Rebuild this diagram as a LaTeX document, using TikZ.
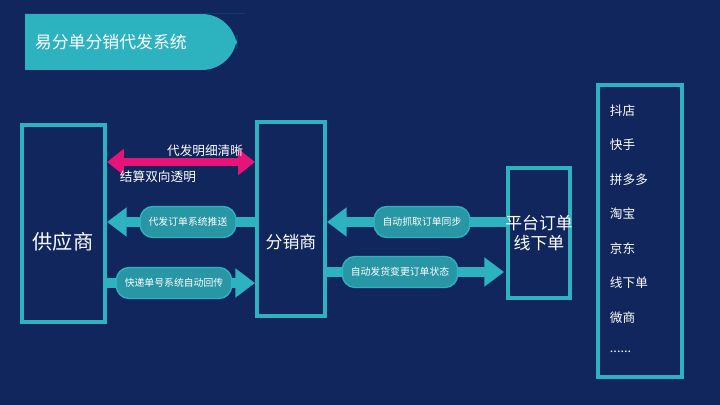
\documentclass[tikz,border=0pt]{standalone}
\usepackage{fontspec}
\setmainfont{Noto Sans CJK SC}
\usetikzlibrary{arrows.meta,positioning}
\definecolor{navybg}{RGB}{16,38,92}
\definecolor{tealline}{RGB}{45,178,192}
\definecolor{tealpill}{RGB}{40,150,165}
\definecolor{pinkarrow}{RGB}{230,20,120}
\newcommand{\etcmark}{......}
\tikzset{
  frame/.style={draw=tealline, line width=3.5pt, fill=navybg},
  pill/.style={fill=tealpill, draw=tealline, line width=1pt, rounded corners=9pt, text=white, font=\scriptsize, minimum height=22pt, inner xsep=6pt},
  flow/.style={tealline, line width=7pt, -{Triangle[length=14pt,width=20pt]}},
  item/.style={text=white, font=\small, anchor=west}
}
\begin{document}
\begin{tikzpicture}[x=0.025cm, y=-0.025cm]
  % background
  \fill[navybg] (0,0) rectangle (720,405);
  \useasboundingbox (0,0) rectangle (720,405);

  % title
  \fill[tealline, rounded corners=25pt] (25,14) -- (210,14) -- (237,14) -- (237,70) -- (25,70) [sharp corners] -- cycle;
  \fill[tealline] (25,14) rectangle (120,70);
  \node[text=white, font=\large, anchor=west] (title) at (30,42) {易分单分销代发系统};

  % boxes
  \draw[frame] (22,125) rectangle (105,322);
  \node[text=white, font=\Large] (sup) at (63,242) {供应商};
  \draw[frame] (257,122) rectangle (325,316);
  \node[text=white, font=\large] (dist) at (291,242) {分销商};
  \draw[frame] (508,168) rectangle (570,298);
  \node[text=white, font=\large, align=center] (plat) at (539,233) {平台订单\\线下单};
  \draw[frame] (598,85) rectangle (682,377);

  % channel list
  \foreach \txt [count=\i] in {抖店,快手,拼多多,淘宝,京东,线下单,微商,\etcmark}
    \node[item] (ch\i) at (605,{76+34.5*\i}) {\txt};

  % pink settlement arrow
  \coordinate (pa) at (107,162);
  \coordinate (pb) at (255,162);
  \draw[pinkarrow, line width=5pt, {Triangle[length=12pt,width=18pt]}-{Triangle[length=12pt,width=18pt]}] (pa) -- (pb);
  \node[text=white, font=\small, anchor=east] (pt1) at (248,151) {代发明细清晰};
  \node[text=white, font=\small, anchor=west] (pt2) at (115,177) {结算双向透明};

  % flows between supplier and distributor
  \coordinate (f1a) at (255,222);
  \coordinate (f1b) at (107,222);
  \draw[flow] (f1a) -- (f1b);
  \node[pill] (l1) at (188,222) {代发订单系统推送};
  \coordinate (f2a) at (107,283);
  \coordinate (f2b) at (255,283);
  \draw[flow] (f2a) -- (f2b);
  \node[pill] (l2) at (174,283) {快递单号系统自动回传};

  % flows between distributor and platform
  \coordinate (f3a) at (506,222);
  \coordinate (f3b) at (327,222);
  \draw[flow] (f3a) -- (f3b);
  \node[pill] (l3) at (422,222) {自动抓取订单同步};
  \coordinate (f4a) at (327,272);
  \coordinate (f4b) at (504,272);
  \draw[flow] (f4a) -- (f4b);
  \node[pill] (l4) at (400,272) {自动发货变更订单状态};
\end{tikzpicture}
\end{document}
